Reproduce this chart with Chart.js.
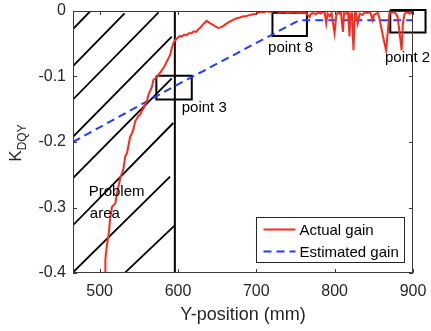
<!DOCTYPE html>
<html>
<head>
<meta charset="utf-8">
<script src="https://cdn.jsdelivr.net/npm/chart.js@4"></script>
<style>
  html, body { margin: 0; padding: 0; background: #fff; }
</style>
</head>
<body>
<canvas id="gainChart" width="431" height="331"></canvas>
<script>
// Actual gain (red, noisy)
const actualX = [507, 507.3, 509, 511.4, 513.6, 515.8, 518, 520, 522.1, 524, 526.3, 528.5, 530.5, 532.7, 534.9, 536.9,
  539, 541.5, 543.2, 545.5, 547.6, 549.6, 551.8, 554, 556, 558, 560.3, 562.3, 564.5, 566.7, 568.7, 571, 573, 575,
  578, 581.4, 583.5, 585.7, 588, 590, 592.1, 594.1, 596.3, 598.5, 600.5, 602.7, 605, 608, 611, 614, 617.5, 620,
  623, 626, 628, 631, 634, 636.6, 639, 641, 645, 648, 651.5, 654, 657.8, 661, 666.3, 670, 674.8, 679, 683.3, 687,
  691.8, 696, 700.3, 704, 706.6, 710, 713, 716, 719.4, 722, 725.7, 730, 735, 740, 745, 750, 755, 760, 764, 768,
  770, 772.3, 776, 778.7, 782, 785, 787.2, 789.3, 791, 793.5, 796, 799.9, 802, 804, 806.3, 808, 810.5, 812, 814.7,
  817, 819, 820, 821.1, 822, 824, 825.7, 827, 829.5, 832, 835.9, 838, 841, 844.4, 846, 848.6, 850, 852.8, 855, 857,
  859.2, 862, 865.6, 868, 869.8, 872, 876.1, 878, 880.4, 883, 885.5, 887, 888.9, 891, 893.1, 896, 899.5];
const actualY = [-0.400, -0.380, -0.360, -0.342, -0.316, -0.299, -0.296, -0.294, -0.278, -0.268, -0.255, -0.248, -0.240,
  -0.222, -0.217, -0.205, -0.192, -0.186, -0.180, -0.168, -0.164, -0.160, -0.158, -0.152, -0.149, -0.143, -0.138,
  -0.128, -0.122, -0.116, -0.105, -0.103, -0.101, -0.098, -0.093, -0.087, -0.083, -0.077, -0.072, -0.067, -0.057,
  -0.049, -0.045, -0.042, -0.040, -0.038, -0.039, -0.036, -0.037, -0.034, -0.034, -0.031, -0.032, -0.028, -0.026,
  -0.022, -0.018, -0.015, -0.017, -0.019, -0.021, -0.024, -0.026, -0.025, -0.023, -0.020, -0.016, -0.014, -0.011,
  -0.010, -0.008, -0.008, -0.006, -0.005, -0.004, -0.002, -0.001, -0.002, 0.000, -0.001, -0.001, 0.000, 0.000,
  -0.002, -0.001, -0.003, -0.002, -0.001, -0.003, -0.002, -0.004, -0.009, -0.004, -0.003, -0.005, -0.002, -0.004,
  -0.001, -0.002, -0.019, -0.004, -0.008, -0.003, -0.034, -0.008, -0.002, -0.004, -0.002, -0.032, -0.003, -0.004,
  -0.002, -0.039, -0.005, -0.006, -0.002, -0.060, -0.004, -0.001, -0.019, -0.004, -0.006, -0.002, -0.003, -0.002,
  -0.004, -0.014, -0.006, -0.004, -0.003, -0.010, -0.024, -0.040, -0.060, -0.030, -0.004, -0.002, -0.002, -0.004,
  -0.009, -0.035, -0.060, -0.020, -0.006, -0.002, -0.002, -0.004, -0.002];

// Estimated gain (blue, dashed)
const estimatedX = [466, 600, 755, 900];
const estimatedY = [-0.2, -0.112, -0.014, -0.014];

// Hatched "problem area" lines
const hatchX1 = [466, 466, 466, 466, 466, 466, 466, 532.8];
const hatchY1 = [-0.0275, -0.084, -0.135, -0.192, -0.255, -0.327, -0.399, -0.399];
const hatchX2 = [488.2, 531.8, 575.3, 592.1, 592.1, 594, 589.9, 596.3];
const hatchY2 = [0, -0.0035, -0.002, -0.039, -0.103, -0.171, -0.253, -0.327];
const borderLineX = 596;

// Marked points
const pointNames = ["point 3", "point 8", "point 2"];
const boxX1 = [572.4, 720.6, 871];
const boxX2 = [617.6, 764.6, 916];
const boxY1 = [-0.099, -0.0026, 0.0015];
const boxY2 = [-0.135, -0.038, -0.033];
const pointLabelX = [604.8, 715, 864.3];
const pointLabelY = [-0.148, -0.057, -0.072];

const areaText = ["Problem", "area"];
const areaTextX = [486, 487.5];
const areaTextY = [-0.276, -0.31];

// Axes
const xTicks = [500, 600, 700, 800, 900];
const yTicks = [-0.4, -0.3, -0.2, -0.1, 0];
const xMin = 466, xMax = 900, yMin = -0.4, yMax = 0;

const FONT = '"Liberation Sans", Arial, Helvetica, sans-serif';
const TEXT = "#262626";

function toPoints(xs, ys) {
    return xs.map((x, i) => ({ x: x, y: ys[i] }));
}

const datasets = [
    {
        label: "Actual gain",
        data: toPoints(actualX, actualY),
        borderColor: "#ff2a1a",
        borderWidth: 2,
        pointRadius: 0,
        fill: false
    },
    {
        label: "Estimated gain",
        data: toPoints(estimatedX, estimatedY),
        borderColor: "#1f3cff",
        borderWidth: 2,
        borderDash: [8, 5],
        pointRadius: 0,
        fill: false
    }
];

// boxes around the marked points
for (let i = 0; i < pointNames.length; i++) {
    datasets.push({
        label: pointNames[i],
        data: toPoints([boxX1[i], boxX2[i], boxX2[i], boxX1[i], boxX1[i]],
                       [boxY1[i], boxY1[i], boxY2[i], boxY2[i], boxY1[i]]),
        borderColor: "#000",
        borderWidth: 2,
        pointRadius: 0,
        clip: false
    });
}

// hatching
for (let i = 0; i < hatchX1.length; i++) {
    datasets.push({
        label: "hatch",
        data: toPoints([hatchX1[i], hatchX2[i]], [hatchY1[i], hatchY2[i]]),
        borderColor: "#000",
        borderWidth: 1.8,
        pointRadius: 0
    });
}

datasets.push({
    label: "border",
    data: toPoints([borderLineX, borderLineX], [yMin, yMax]),
    borderColor: "#000",
    borderWidth: 2,
    pointRadius: 0
});

// Box, inward ticks, labels, legend
const decorations = {
    id: "decorations",
    afterDatasetsDraw(chart) {
        const ctx = chart.ctx;
        const a = chart.chartArea;
        const x = chart.scales.x;
        const y = chart.scales.y;

        ctx.save();
        ctx.strokeStyle = "#3a3a3a";
        ctx.lineWidth = 1;
        ctx.beginPath();
        ctx.rect(a.left + 0.5, a.top + 0.5, a.right - a.left - 1, a.bottom - a.top - 1);
        xTicks.forEach(v => {
            const px = Math.round(x.getPixelForValue(v)) + 0.5;
            ctx.moveTo(px, a.bottom);
            ctx.lineTo(px, a.bottom - 4);
            ctx.moveTo(px, a.top);
            ctx.lineTo(px, a.top + 4);
        });
        yTicks.forEach(v => {
            const py = Math.round(y.getPixelForValue(v)) + 0.5;
            ctx.moveTo(a.left, py);
            ctx.lineTo(a.left + 4, py);
            ctx.moveTo(a.right, py);
            ctx.lineTo(a.right - 4, py);
        });
        ctx.stroke();

        // text labels
        ctx.fillStyle = "#000";
        ctx.font = "15px " + FONT;
        ctx.textAlign = "left";
        ctx.textBaseline = "middle";
        pointNames.forEach((name, i) => {
            ctx.fillText(name, x.getPixelForValue(pointLabelX[i]), y.getPixelForValue(pointLabelY[i]));
        });
        areaText.forEach((t, i) => {
            ctx.fillText(t, x.getPixelForValue(areaTextX[i]), y.getPixelForValue(areaTextY[i]));
        });

        // legend
        const lw = 148, lh = 45;
        const lx = Math.round(a.right - 9 - lw) + 0.5;
        const ly = Math.round(a.bottom - 11 - lh) + 0.5;
        ctx.fillStyle = "#fff";
        ctx.fillRect(lx, ly, lw, lh);
        ctx.strokeStyle = "#262626";
        ctx.lineWidth = 1;
        ctx.strokeRect(lx, ly, lw, lh);
        [0, 1].forEach(i => {
            const ds = chart.data.datasets[i];
            const ry = ly + 12 + i * 22;
            ctx.strokeStyle = ds.borderColor;
            ctx.lineWidth = 2;
            ctx.setLineDash(ds.borderDash || []);
            ctx.beginPath();
            ctx.moveTo(lx + 7, ry);
            ctx.lineTo(lx + 39, ry);
            ctx.stroke();
            ctx.setLineDash([]);
            ctx.fillStyle = "#000";
            ctx.fillText(ds.label, lx + 43, ry + 1);
        });

        // y axis title K_DQY
        ctx.translate(21, (a.top + a.bottom) / 2 + 1);
        ctx.rotate(-Math.PI / 2);
        ctx.textBaseline = "alphabetic";
        ctx.font = "17px " + FONT;
        const wK = ctx.measureText("K").width;
        ctx.font = "12px " + FONT;
        const wSub = ctx.measureText("DQY").width;
        const start = -(wK + wSub) / 2;
        ctx.fillStyle = TEXT;
        ctx.font = "17px " + FONT;
        ctx.fillText("K", start, 0);
        ctx.font = "12px " + FONT;
        ctx.fillText("DQY", start + wK, 5);
        ctx.restore();
    }
};

const ctx = document.getElementById("gainChart").getContext("2d");

const gainChart = new Chart(ctx, {
    type: "line",
    data: { datasets: datasets },
    options: {
        responsive: false,
        animation: false,
        layout: { padding: { top: 11, right: 18, left: 0, bottom: 0 } },
        plugins: {
            legend: { display: false },
            tooltip: { enabled: false }
        },
        scales: {
            x: {
                type: "linear",
                min: xMin,
                max: xMax,
                afterBuildTicks: scale => { scale.ticks = xTicks.map(v => ({ value: v })); },
                afterFit: scale => {
                    scale.height = 58;
                    scale.paddingLeft = 0;
                    scale.paddingRight = 0;
                },
                grid: { display: false, drawTicks: false },
                border: { display: false },
                ticks: { padding: 9, color: TEXT, font: { family: FONT, size: 16 } },
                title: {
                    display: true,
                    text: "Y-position (mm)",
                    color: TEXT,
                    font: { family: FONT, size: 18 },
                    padding: { top: 0, bottom: 5 }
                }
            },
            y: {
                type: "linear",
                min: yMin,
                max: yMax,
                afterBuildTicks: scale => { scale.ticks = yTicks.map(v => ({ value: v })); },
                afterFit: scale => {
                    scale.width = 73;
                    scale.paddingTop = 0;
                    scale.paddingBottom = 0;
                },
                grid: { display: false, drawTicks: false },
                border: { display: false },
                ticks: { padding: 7, color: TEXT, font: { family: FONT, size: 16 } }
            }
        }
    },
    plugins: [decorations]
});
</script>
</body>
</html>
